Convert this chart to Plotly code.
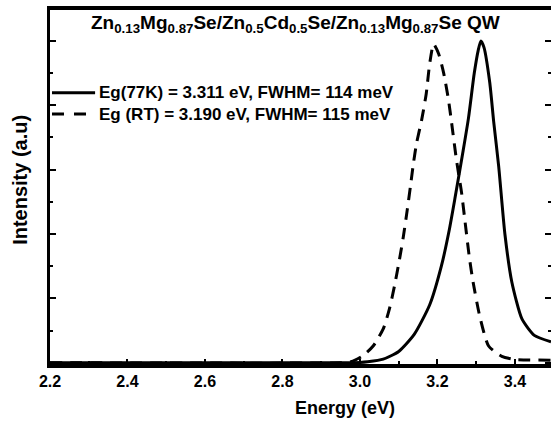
import plotly.graph_objects as go

# ---- data ----
E_77K = [2.20, 2.90, 3.00, 3.02, 3.06, 3.10, 3.14, 3.18, 3.21, 3.23, 3.245, 3.265,
         3.28, 3.295, 3.305, 3.312, 3.32, 3.335, 3.345, 3.358, 3.374, 3.392, 3.418,
         3.45, 3.493]
I_77K = [0.0, 0.0, 0.001, 0.003, 0.011, 0.035, 0.088, 0.18, 0.30, 0.41, 0.51, 0.65,
         0.76, 0.90, 0.97, 1.0, 0.98, 0.87, 0.75, 0.61, 0.40, 0.25, 0.136,
         0.085, 0.065]

E_RT = [2.20, 2.95, 2.977, 3.008, 3.034, 3.060, 3.076, 3.089, 3.102, 3.112, 3.122,
        3.130, 3.138, 3.146, 3.159, 3.171, 3.180, 3.190, 3.203, 3.216, 3.228, 3.236,
        3.249, 3.262, 3.272, 3.282, 3.292, 3.309, 3.332, 3.366, 3.40, 3.493]
I_RT = [0.0, 0.0, 0.003, 0.022, 0.052, 0.105, 0.167, 0.238, 0.321, 0.392, 0.475,
        0.546, 0.62, 0.682, 0.753, 0.836, 0.93, 0.99, 0.96, 0.90, 0.82, 0.75,
        0.63, 0.53, 0.43, 0.33, 0.25, 0.145, 0.052, 0.02, 0.01, 0.008]

label_77K = "Eg(77K) = 3.311 eV, FWHM= 114 meV"
label_RT = "Eg (RT) = 3.190 eV, FWHM= 115 meV"
title_text = ("Zn<sub>0.13</sub>Mg<sub>0.87</sub>Se/Zn<sub>0.5</sub>Cd<sub>0.5</sub>Se/"
              "Zn<sub>0.13</sub>Mg<sub>0.87</sub>Se QW")
x_title = "Energy (eV)"
y_title = "Intensity (a.u)"
x_ticks = [2.2, 2.4, 2.6, 2.8, 3.0, 3.2, 3.4]
x_ticklabels = ["2.2", "2.4", "2.6", "2.8", "3.0", "3.2", "3.4"]

FONT = "Liberation Sans, Arial, Helvetica, sans-serif"
DASH = "12px,8px"

fig = go.Figure()
fig.add_trace(go.Scatter(x=E_77K, y=I_77K, mode="lines", name=label_77K,
                         showlegend=False,
                         line=dict(color="black", width=3, shape="spline", smoothing=0.6)))
fig.add_trace(go.Scatter(x=E_RT, y=I_RT, mode="lines", name=label_RT,
                         showlegend=False,
                         line=dict(color="black", width=3, dash=DASH,
                                   shape="spline", smoothing=0.6)))
# invisible trace for right-side ticks
fig.add_trace(go.Scatter(x=[E_77K[0]], y=[0], yaxis="y2", mode="lines",
                         showlegend=False, hoverinfo="skip",
                         line=dict(color="rgba(0,0,0,0)")))

# manual legend (paper coordinates)
leg_x0, leg_x1, leg_tx = 0.004, 0.090, 0.094
leg_y = [0.766, 0.706]
shapes = [
    dict(type="line", xref="paper", yref="paper", x0=leg_x0, x1=leg_x1,
         y0=leg_y[0], y1=leg_y[0], line=dict(color="black", width=3)),
    dict(type="line", xref="paper", yref="paper", x0=leg_x0, x1=leg_x1,
         y0=leg_y[1], y1=leg_y[1], line=dict(color="black", width=3, dash="12px,10px")),
]
legend_ann = [
    dict(text=label_77K, xref="paper", yref="paper", x=leg_tx, y=leg_y[0],
         xanchor="left", yanchor="middle", showarrow=False,
         font=dict(family=FONT, size=17, weight="bold")),
    dict(text=label_RT, xref="paper", yref="paper", x=leg_tx, y=leg_y[1],
         xanchor="left", yanchor="middle", showarrow=False,
         font=dict(family=FONT, size=17, weight="bold")),
]

fig.update_layout(
    width=551, height=426,
    margin=dict(l=50, r=0, t=10, b=62),
    paper_bgcolor="white", plot_bgcolor="white",
    font=dict(family=FONT, color="black", size=16, weight="bold"),
    showlegend=False,
    xaxis=dict(range=[2.2, 3.493], tickvals=x_ticks, ticktext=x_ticklabels,
               ticks="inside", ticklen=5, tickwidth=2, tickcolor="black",
               minor=dict(ticks="inside", ticklen=3, tickwidth=2, dtick=0.1,
                          tick0=2.2, tickcolor="black"),
               showline=True, linewidth=4, linecolor="black", mirror=True,
               showgrid=False, zeroline=False,
               tickfont=dict(family=FONT, size=16, weight="bold")),
    yaxis=dict(range=[-0.004, 1.096], dtick=0.2, tick0=0,
               ticks="inside", ticklen=6, tickwidth=2, tickcolor="black",
               minor=dict(ticks="inside", ticklen=3, tickwidth=2, dtick=0.1,
                          tickcolor="black"),
               showticklabels=False, showline=True, linewidth=3,
               linecolor="black", showgrid=False, zeroline=False),
    yaxis2=dict(range=[-0.004, 1.096], dtick=0.2, tick0=0, overlaying="y",
                side="right", ticks="inside", ticklen=6, tickwidth=2,
                tickcolor="black",
                minor=dict(ticks="inside", ticklen=3, tickwidth=2, dtick=0.1,
                           tickcolor="black"),
                showticklabels=False, showline=False, showgrid=False,
                zeroline=False),
    shapes=shapes,
    annotations=legend_ann + [
        dict(text=title_text, xref="paper", yref="paper", x=0.49, y=0.96,
             xanchor="center", yanchor="middle", showarrow=False,
             font=dict(family=FONT, size=19, weight="bold")),
        dict(text=x_title, xref="paper", yref="paper", x=0.589, y=-0.125,
             xanchor="center", yanchor="middle", showarrow=False,
             font=dict(family=FONT, size=18, weight="bold")),
        dict(text=y_title, xref="paper", yref="paper", x=-0.06, y=0.52,
             xanchor="center", yanchor="middle", showarrow=False, textangle=-90,
             font=dict(family=FONT, size=20, weight="bold")),
    ],
)

fig.write_html("out.html")
